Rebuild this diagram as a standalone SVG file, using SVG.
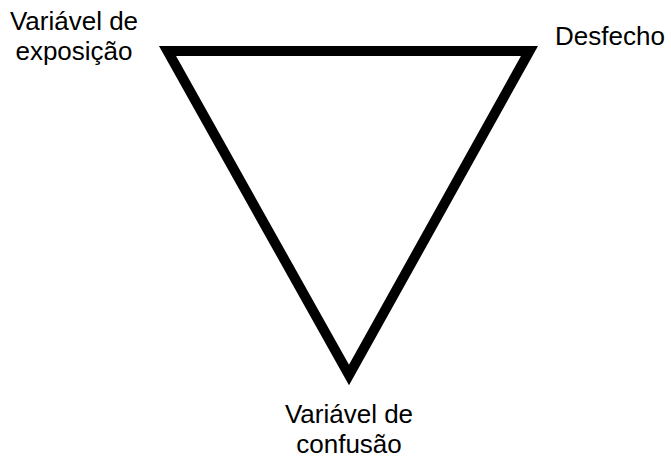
<svg xmlns="http://www.w3.org/2000/svg" width="671" height="460" viewBox="0 0 671 460">
<style>
text{font-family:"Liberation Sans",Arial,sans-serif;font-size:26px;fill:#000}
.edge{fill:none;stroke:#000;stroke-width:10;stroke-linejoin:miter;stroke-miterlimit:10}
</style>
<rect width="671" height="460" fill="#fff"/>
<g id="connectors">
<polygon class="edge" points="167.5,51 529.5,51 349,375"/>
</g>
<g id="node-exposicao">
<text x="74" y="30" text-anchor="middle">Variável de</text>
<text x="74" y="60" text-anchor="middle">exposição</text>
</g>
<g id="node-desfecho">
<text x="555" y="45">Desfecho</text>
</g>
<g id="node-confusao">
<text x="349" y="423" text-anchor="middle">Variável de</text>
<text x="349" y="453" text-anchor="middle">confusão</text>
</g>
</svg>
